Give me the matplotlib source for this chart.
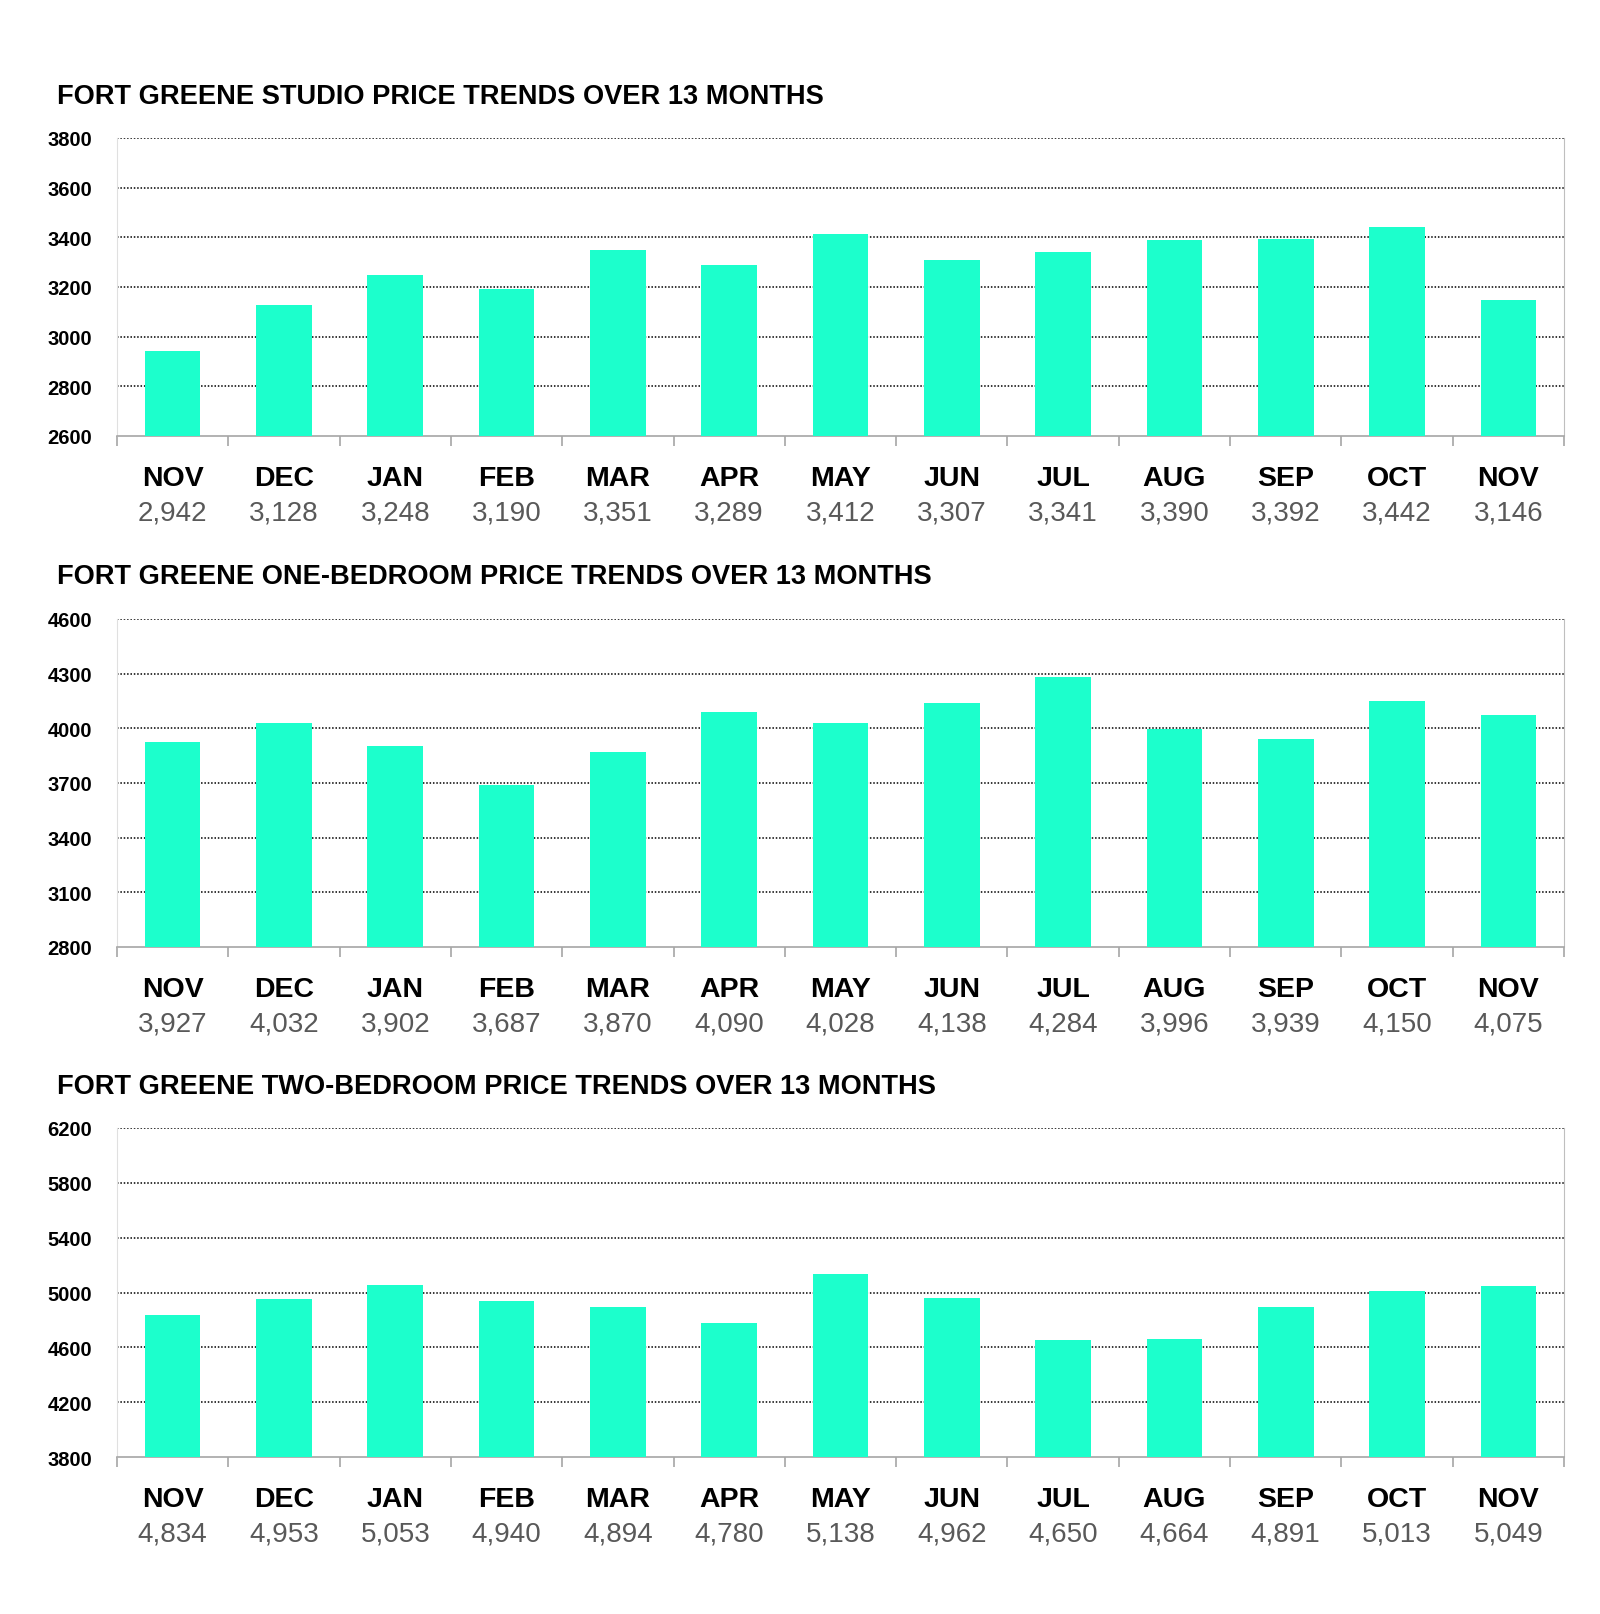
import matplotlib.pyplot as plt
import numpy as np

months = ['NOV', 'DEC', 'JAN', 'FEB', 'MAR', 'APR', 'MAY', 'JUN', 'JUL', 'AUG', 'SEP', 'OCT', 'NOV']

studio = [2942, 3128, 3248, 3190, 3351, 3289, 3412, 3307, 3341, 3390, 3392, 3442, 3146]
one_bed = [3927, 4032, 3902, 3687, 3870, 4090, 4028, 4138, 4284, 3996, 3939, 4150, 4075]
two_bed = [4834, 4953, 5053, 4940, 4894, 4780, 5138, 4962, 4650, 4664, 4891, 5013, 5049]

titles = ['FORT GREENE STUDIO PRICE TRENDS OVER 13 MONTHS',
          'FORT GREENE ONE-BEDROOM PRICE TRENDS OVER 13 MONTHS',
          'FORT GREENE TWO-BEDROOM PRICE TRENDS OVER 13 MONTHS']
yticks = [np.arange(2600, 3801, 200), np.arange(2800, 4601, 300), np.arange(3800, 6201, 400)]

plt.rcParams['font.family'] = ['Liberation Sans', 'DejaVu Sans']

W, H = 1600, 1615
fig = plt.figure(figsize=(W / 100, H / 100), dpi=100)

# pixel boxes: (top, bottom, title y)
boxes = [(139, 437, 97), (620, 948, 577), (1129, 1458, 1087)]
left, right = 117, 1564
bar_col = '#1cffcc'

for data, title, yt, (top, bot, ty) in zip([studio, one_bed, two_bed], titles, yticks, boxes):
    ax = fig.add_axes([left / W, 1 - bot / H, (right - left) / W, (bot - top) / H])
    x = np.arange(len(months))
    ax.bar(x, np.array(data) - yt[0], bottom=yt[0], width=0.5, color=bar_col, zorder=3)
    ax.set_xlim(-0.5, 12.5)
    ax.set_ylim(yt[0], yt[-1])
    ax.set_yticks(yt)
    ax.set_yticklabels([str(v) for v in yt], fontsize=14.5, fontweight='bold')
    ax.tick_params(axis='y', length=0, pad=18)
    for v in yt[1:]:
        ax.axhline(v, color='black', lw=1.1, ls=(0, (1, 1.2)), zorder=1)
    ax.set_xticks(np.arange(-0.5, 13, 1))
    ax.set_xticklabels([])
    ax.tick_params(axis='x', length=7, width=1.2, color='#a6a6a6', direction='out')
    ax.spines['top'].set_visible(False)
    ax.spines['left'].set_color('#e0e0e0')
    ax.spines['right'].set_color('#bfbfbf')
    ax.spines['bottom'].set_color('#a6a6a6')
    ax.spines['bottom'].set_linewidth(1.2)
    for i, (m, v) in enumerate(zip(months, data)):
        ax.annotate(m, xy=(i, 0), xycoords=('data', 'axes fraction'),
                    xytext=(0, -30.2), textcoords='offset points',
                    ha='center', va='center', fontsize=20.5, fontweight='bold', color='black')
        ax.annotate(f'{v:,}', xy=(i, 0), xycoords=('data', 'axes fraction'),
                    xytext=(0, -55.4), textcoords='offset points',
                    ha='center', va='center', fontsize=20, color='#595959')
    fig.text(57 / W, 1 - ty / H, title, ha='left', va='center',
             fontsize=19.6, fontweight='bold', color='black')

fig.savefig('out.png', dpi=100)
